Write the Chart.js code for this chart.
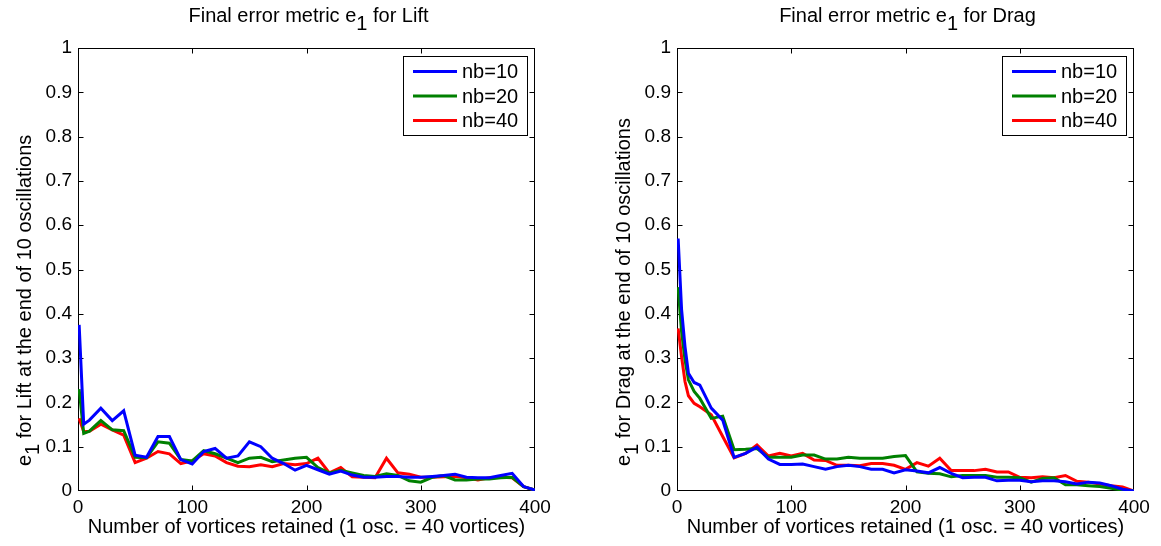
<!DOCTYPE html>
<html>
<head>
<meta charset="utf-8">
<script src="https://cdn.jsdelivr.net/npm/chart.js@4/dist/chart.umd.min.js"></script>
<style>
  html, body { margin: 0; padding: 0; background: #fff; }
  #page { position: relative; width: 1161px; height: 546px; overflow: hidden; }
  .panel { position: absolute; top: 0; width: 560px; height: 546px; }
  #liftBox { left: 0; }
  #dragBox { left: 599px; }
</style>
</head>
<body>
<div id="page">
  <div class="panel" id="liftBox"><canvas id="lift"></canvas></div>
  <div class="panel" id="dragBox"><canvas id="drag"></canvas></div>
</div>
<script>
// Number of vortices retained at which the error was evaluated
const liftVortices = [1, 5, 10, 20, 30, 40, 50, 60, 70, 80, 90, 100, 110, 120, 130, 140, 150, 160, 170, 180, 190, 200,
  210, 220, 230, 240, 250, 260, 270, 280, 290, 300, 310, 320, 330, 340, 350, 360, 370, 380, 390, 400];
const dragVortices = [1, 4, 7, 10, 15, 20, 30, 40, 50, 60, 70, 80, 90, 100, 110, 120, 130, 140, 150, 160, 170, 180, 190, 200,
  210, 220, 230, 240, 250, 260, 270, 280, 290, 300, 310, 320, 330, 340, 350, 360, 370, 380, 390, 400];

// e1 for Lift
const liftNb10 = [0.375, 0.151, 0.160, 0.187, 0.159, 0.181, 0.081, 0.076, 0.123, 0.123, 0.071, 0.061, 0.089, 0.096, 0.074, 0.079,
  0.111, 0.100, 0.074, 0.062, 0.047, 0.058, 0.048, 0.038, 0.045, 0.036, 0.031, 0.031, 0.033, 0.033, 0.031, 0.031, 0.033, 0.035,
  0.038, 0.031, 0.030, 0.030, 0.035, 0.040, 0.010, 0.002];
const liftNb20 = [0.230, 0.130, 0.135, 0.159, 0.138, 0.136, 0.076, 0.075, 0.111, 0.108, 0.071, 0.068, 0.091, 0.084, 0.074, 0.064,
  0.074, 0.076, 0.066, 0.070, 0.074, 0.076, 0.053, 0.041, 0.047, 0.041, 0.035, 0.033, 0.039, 0.035, 0.023, 0.020, 0.031, 0.035,
  0.025, 0.025, 0.027, 0.027, 0.030, 0.031, 0.010, 0.002];
const liftNb40 = [0.164, 0.134, 0.135, 0.151, 0.138, 0.126, 0.064, 0.074, 0.089, 0.084, 0.062, 0.068, 0.084, 0.079, 0.064, 0.056,
  0.055, 0.059, 0.055, 0.062, 0.059, 0.062, 0.074, 0.041, 0.053, 0.032, 0.031, 0.030, 0.074, 0.041, 0.038, 0.031, 0.031, 0.032,
  0.033, 0.030, 0.025, 0.030, 0.031, 0.030, 0.010, 0.002];

// e1 for Drag
const dragNb10 = [0.570, 0.410, 0.326, 0.266, 0.245, 0.239, 0.187, 0.160, 0.076, 0.085, 0.099, 0.072, 0.060, 0.060, 0.061, 0.055,
  0.049, 0.055, 0.058, 0.055, 0.049, 0.049, 0.041, 0.048, 0.045, 0.041, 0.053, 0.040, 0.030, 0.031, 0.031, 0.023, 0.024, 0.024,
  0.021, 0.023, 0.023, 0.021, 0.016, 0.020, 0.018, 0.012, 0.004, 0.000];
const dragNb20 = [0.460, 0.360, 0.296, 0.251, 0.225, 0.209, 0.164, 0.169, 0.093, 0.094, 0.096, 0.076, 0.076, 0.076, 0.081, 0.081,
  0.072, 0.072, 0.076, 0.074, 0.074, 0.074, 0.078, 0.080, 0.043, 0.040, 0.039, 0.032, 0.035, 0.035, 0.035, 0.031, 0.031, 0.030,
  0.020, 0.028, 0.030, 0.014, 0.014, 0.012, 0.010, 0.006, 0.002, 0.000];
const dragNb40 = [0.367, 0.303, 0.247, 0.215, 0.198, 0.190, 0.172, 0.123, 0.075, 0.085, 0.104, 0.079, 0.085, 0.079, 0.085, 0.070,
  0.069, 0.058, 0.058, 0.057, 0.062, 0.062, 0.058, 0.049, 0.064, 0.056, 0.074, 0.046, 0.046, 0.046, 0.049, 0.043, 0.043, 0.031,
  0.030, 0.032, 0.030, 0.035, 0.022, 0.020, 0.016, 0.012, 0.009, 0.000];

const seriesNames = ['nb=10', 'nb=20', 'nb=40'];
const seriesColors = ['#0000ff', '#008000', '#ff0000'];
const xTicks = [0, 100, 200, 300, 400];
const yTicks = [0, 0.1, 0.2, 0.3, 0.4, 0.5, 0.6, 0.7, 0.8, 0.9, 1];

const FONT = '"Liberation Sans", Arial, Helvetica, sans-serif';
const TICK_FS = 19;
const LABEL_FS = 20;

// draws a string made of parts, some of them subscripts; align 'center' or 'left'
function richText(ctx, parts, x0, base, align) {
  ctx.font = LABEL_FS + 'px ' + FONT;
  const w = parts.reduce((s, p) => s + ctx.measureText(p.t).width, 0);
  let x = align === 'left' ? x0 : x0 - w / 2;
  ctx.textAlign = 'left';
  ctx.textBaseline = 'alphabetic';
  for (const p of parts) {
    ctx.fillText(p.t, x, base + (p.sub ? 8 : 0));
    x += ctx.measureText(p.t).width;
  }
}

// box, inward tick marks, titles and legend
const decor = {
  id: 'decor',
  beforeDatasetsDraw(chart) {
    const { ctx, chartArea: a, scales: { x, y } } = chart;
    ctx.save();
    ctx.strokeStyle = '#000';
    ctx.lineWidth = 1;
    const L = Math.round(a.left) + 0.5, R = Math.round(a.right) - 0.5;
    const T = Math.round(a.top) + 0.5, B = Math.round(a.bottom) - 0.5;
    ctx.strokeRect(L, T, R - L, B - T);
    const tl = 5;
    const clamp = (v, lo, hi) => Math.min(hi, Math.max(lo, v));
    ctx.beginPath();
    xTicks.forEach(v => {
      const px = clamp(Math.round(x.getPixelForValue(v)) + 0.5, L, R);
      ctx.moveTo(px, B); ctx.lineTo(px, B - tl);
      ctx.moveTo(px, T); ctx.lineTo(px, T + tl);
    });
    yTicks.forEach(v => {
      const py = clamp(Math.round(y.getPixelForValue(v)) + 0.5, T, B);
      ctx.moveTo(L, py); ctx.lineTo(L + tl, py);
      ctx.moveTo(R, py); ctx.lineTo(R - tl, py);
    });
    ctx.stroke();
    ctx.restore();
  },
  afterDraw(chart, args, opts) {
    const { ctx, chartArea: a } = chart;
    ctx.save();
    ctx.fillStyle = '#000';
    // title
    richText(ctx, [{ t: 'Final error metric e' }, { t: '1', sub: true }, { t: ' for ' + opts.quantity }],
      (a.left + a.right) / 2 + 2, 22, 'center');
    // y axis label, reading upwards from just above the 0.1 tick
    ctx.save();
    ctx.translate(31, 466);
    ctx.rotate(-Math.PI / 2);
    richText(ctx, [{ t: 'e' }, { t: '1', sub: true }, { t: ' for ' + opts.quantity + ' at the end of 10 oscillations' }], 0, 0, 'left');
    ctx.restore();
    // legend
    const bx = a.right - 132, by = a.top + 8, bw = 124, bh = 79;
    ctx.fillStyle = '#fff';
    ctx.fillRect(bx, by, bw, bh);
    ctx.strokeStyle = '#000';
    ctx.lineWidth = 1;
    ctx.strokeRect(Math.round(bx) + 0.5, Math.round(by) + 0.5, bw, bh);
    ctx.font = LABEL_FS + 'px ' + FONT;
    ctx.textBaseline = 'middle';
    ctx.textAlign = 'left';
    chart.data.datasets.forEach((ds, i) => {
      const ry = by + 15.5 + i * 24.5;
      ctx.strokeStyle = ds.borderColor;
      ctx.lineWidth = 3;
      ctx.beginPath();
      ctx.moveTo(bx + 10, ry); ctx.lineTo(bx + 54, ry);
      ctx.stroke();
      ctx.fillStyle = '#000';
      ctx.fillText(ds.label, bx + 59, ry + 1);
    });
    ctx.restore();
  }
};

function makeChart(id, xs, series, quantity) {
  return new Chart(document.getElementById(id), {
    type: 'line',
    data: {
      datasets: series.map((vals, i) => ({
        label: seriesNames[i],
        data: xs.map((v, k) => ({ x: v, y: vals[k] })),
        borderColor: seriesColors[i],
        backgroundColor: seriesColors[i],
        borderWidth: 3,
        pointRadius: 0,
        tension: 0,
        fill: false
      }))
    },
    options: {
      responsive: true,
      maintainAspectRatio: false,
      animation: false,
      events: [],
      layout: { padding: { left: 28, right: 25, top: 48, bottom: 0 } },
      plugins: {
        legend: { display: false },
        tooltip: { enabled: false },
        decor: { quantity: quantity }
      },
      scales: {
        x: {
          type: 'linear',
          min: 0, max: 400,
          afterBuildTicks: s => { s.ticks = xTicks.map(v => ({ value: v })); },
          afterFit: s => { s.height = 55; },
          grid: { display: false, drawTicks: false },
          border: { display: false },
          ticks: { color: '#000', padding: 5, font: { family: FONT, size: TICK_FS }, maxRotation: 0, callback: v => String(v) },
          title: {
            display: true,
            text: 'Number of vortices retained (1 osc. = 40 vortices)',
            color: '#000',
            font: { family: FONT, size: LABEL_FS },
            padding: { top: 0, bottom: 7 }
          }
        },
        y: {
          type: 'linear',
          min: 0, max: 1,
          afterBuildTicks: s => { s.ticks = yTicks.map(v => ({ value: v })); },
          afterFit: s => { s.width = 50; },
          grid: { display: false, drawTicks: false },
          border: { display: false },
          ticks: { color: '#000', padding: 6, font: { family: FONT, size: TICK_FS }, callback: v => String(+v.toFixed(1)) }
        }
      }
    },
    plugins: [decor]
  });
}

makeChart('lift', liftVortices, [liftNb10, liftNb20, liftNb40], 'Lift');
makeChart('drag', dragVortices, [dragNb10, dragNb20, dragNb40], 'Drag');
</script>
</body>
</html>
